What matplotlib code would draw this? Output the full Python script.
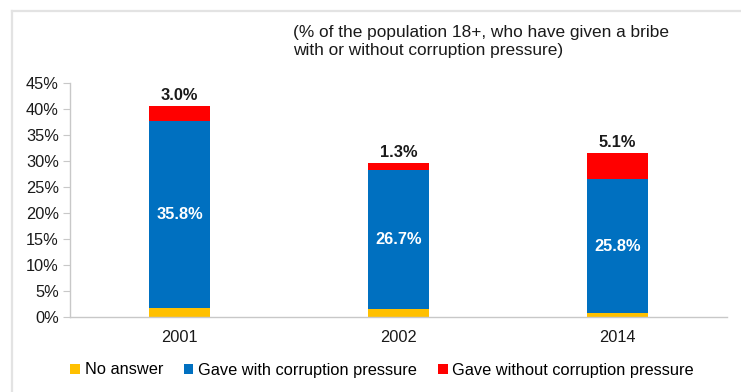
import matplotlib
matplotlib.use("Agg")
import matplotlib.pyplot as plt
from matplotlib.lines import Line2D
from matplotlib.ticker import FuncFormatter
import numpy as np

plt.rcParams['font.family'] = ['Liberation Sans', 'DejaVu Sans']

years = ["2001", "2002", "2014"]
no_answer = [1.8, 1.6, 0.7]
with_pressure = [35.8, 26.7, 25.8]
without_pressure = [3.0, 1.3, 5.1]

series_names = ["No answer", "Gave with corruption pressure", "Gave without corruption pressure"]
colors = ["#FFC000", "#0070C0", "#FF0000"]

W, H = 741, 392
fig = plt.figure(figsize=(W / 100, H / 100), dpi=100)

# light frame around the chart area
frame_col = "#e3e3e3"
fig.add_artist(Line2D([12 / W, 12 / W], [0, 1 - 11 / H], color=frame_col, lw=1.6))
fig.add_artist(Line2D([12 / W, 1], [1 - 11 / H, 1 - 11 / H], color=frame_col, lw=1.6))

ax = fig.add_axes([70 / W, 75 / H, (727 - 70) / W, (317 - 83) / H])

x = np.arange(len(years))
bw = 0.283
b1 = np.array(no_answer)
b2 = b1 + np.array(with_pressure)

ax.bar(x, no_answer, bw, color=colors[0], label=series_names[0])
ax.bar(x, with_pressure, bw, bottom=b1, color=colors[1], label=series_names[1])
ax.bar(x, without_pressure, bw, bottom=b2, color=colors[2], label=series_names[2])

for i in range(len(years)):
    ax.text(x[i], b1[i] + with_pressure[i] / 2, f"{with_pressure[i]:.1f}%",
            ha="center", va="center", color="white", fontsize=11.8, fontweight="bold")
    ax.text(x[i], b2[i] + without_pressure[i] + 0.6, f"{without_pressure[i]:.1f}%",
            ha="center", va="bottom", color="#1a1a1a", fontsize=11.8, fontweight="bold")

ax.set_xlim(-0.5, 2.5)
ax.set_ylim(0, 45)
ax.set_yticks(np.arange(0, 46, 5))
ax.yaxis.set_major_formatter(FuncFormatter(lambda v, p: f"{v:.0f}%"))
ax.set_xticks(x)
ax.set_xticklabels(years)

for s in ["top", "right"]:
    ax.spines[s].set_visible(False)
for s in ["left", "bottom"]:
    ax.spines[s].set_color("#c8c8c8")
    ax.spines[s].set_linewidth(1.0)
ax.tick_params(axis="y", length=5, color="#c8c8c8", labelsize=11.8, labelcolor="#1a1a1a", pad=3)
ax.tick_params(axis="x", length=0, labelsize=11.8, labelcolor="#1a1a1a", pad=9)

fig.text(293 / W, 1 - 25 / H,
         "(% of the population 18+, who have given a bribe\nwith or without corruption pressure)",
         ha="left", va="top", fontsize=12.4, color="#1a1a1a", linespacing=1.22)

fig.legend(loc="center", bbox_to_anchor=(382 / W, 1 - 370 / H), ncol=3, frameon=False,
           fontsize=11.8, handlelength=0.6, handleheight=0.6, handletextpad=0.3,
           columnspacing=1.25, borderpad=0)

fig.savefig("out.png", dpi=100, facecolor="white")
